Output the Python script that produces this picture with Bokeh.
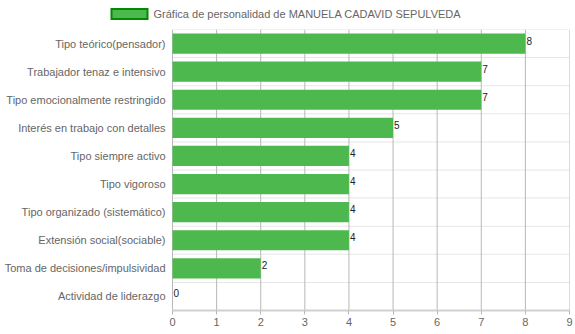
from bokeh.plotting import figure
from bokeh.layouts import column
from bokeh.models import Range1d, FixedTicker, ColumnDataSource
from bokeh.embed import file_html
from bokeh.resources import INLINE
from bokeh.core.properties import value

series_name = "Gráfica de personalidad de MANUELA CADAVID SEPULVEDA"
categories = [
    "Tipo teórico(pensador)",
    "Trabajador tenaz e intensivo",
    "Tipo emocionalmente restringido",
    "Interés en trabajo con detalles",
    "Tipo siempre activo",
    "Tipo vigoroso",
    "Tipo organizado (sistemático)",
    "Extensión social(sociable)",
    "Toma de decisiones/impulsividad",
    "Actividad de liderazgo",
]
scores = [8, 7, 7, 5, 4, 4, 4, 4, 2, 0]
x_ticks = [0, 1, 2, 3, 4, 5, 6, 7, 8, 9]

FONT = "Liberation Sans"
FS = "11px"
BAR = "#4db84d"
BAR_EDGE = "#008a00"
VGRID = "#b8b8b8"
HGRID = "#e6e6e6"

# layout geometry (pixels)
W, H_LEG, H_PLOT = 575, 29, 305
RIGHT_PAD = 6
LABEL_AREA = 172          # room for category labels, left of value 0
FRAME_W = W - RIGHT_PAD

n = len(categories)
band_center = [n - i - 0.5 for i in range(n)]   # first category on top
band_edges = list(range(n + 1))
x0, x1 = x_ticks[0], x_ticks[-1]
x_start = x0 - LABEL_AREA * (x1 - x0) / (FRAME_W - LABEL_AREA)

src = ColumnDataSource(dict(pos=band_center, cat=categories, score=scores,
                            label=[str(s) for s in scores]))

p = figure(width=W, height=H_PLOT,
           y_range=Range1d(0, n),
           x_range=Range1d(x_start, x1),
           output_backend="svg", toolbar_location=None,
           y_axis_location=None,
           min_border_left=0, min_border_right=RIGHT_PAD, min_border_top=0, min_border_bottom=24)
p.outline_line_color = None
p.xgrid.grid_line_color = None
p.ygrid.grid_line_color = None

# grid lines drawn as 1px filled strips
p.rect(x=(x0 + x1) / 2, y=band_edges, width=x1 - x0, height=1, height_units="screen",
       fill_color=HGRID, line_color=None, level="underlay")
p.rect(x=x_ticks, y=n / 2, width=1, height=n, width_units="screen",
       fill_color=VGRID, line_color=None, level="underlay")

p.hbar(y="pos", right="score", left=0, height=0.72, source=src,
       fill_color=BAR, line_color=None)

# category labels (left of the value axis)
p.text(x=x0, y="pos", text="cat", source=src, x_offset=-7,
       text_baseline="middle", text_align="right", text_font_size=FS,
       text_color="#666666", text_font=value(FONT))

# value labels at bar ends
p.text(x="score", y="pos", text="label", source=src, x_offset=1, y_offset=-3,
       text_baseline="middle", text_align="left", text_font_size="10px",
       text_color="#222222", text_font=value(FONT))

# x axis
p.xaxis.ticker = FixedTicker(ticks=x_ticks)
p.xaxis.bounds = (x0, x1)
p.xaxis.axis_line_color = "#d0d0d0"
p.xaxis.axis_line_width = 2
p.xaxis.major_tick_line_color = VGRID
p.xaxis.major_tick_out = 4
p.xaxis.major_tick_in = 0
p.xaxis.minor_tick_line_color = None
p.xaxis.major_label_standoff = 3
p.xaxis.major_label_text_font = FONT
p.xaxis.major_label_text_font_size = FS
p.xaxis.major_label_text_color = "#666666"

# legend strip on top (pixel-coordinate strip)
lg = figure(width=W, height=H_LEG, x_range=Range1d(0, FRAME_W), y_range=Range1d(H_LEG, 0),
            output_backend="svg", toolbar_location=None,
            x_axis_location=None, y_axis_location=None,
            min_border_left=0, min_border_right=RIGHT_PAD, min_border_top=0, min_border_bottom=0)
lg.grid.visible = False
lg.outline_line_color = None
lg.rect(x=[129], y=[13.5], width=38, height=12, fill_color=BAR_EDGE, line_color=None)
lg.rect(x=[129], y=[13.5], width=34, height=8, fill_color=BAR, line_color=None)
lg.text(x=[153], y=[13.5], text=[series_name], text_baseline="middle", text_align="left",
        text_font_size=FS, text_color="#666666", text_font=value(FONT))

layout = column(lg, p, spacing=0)
open("out.html", "w").write(file_html(layout, INLINE))
